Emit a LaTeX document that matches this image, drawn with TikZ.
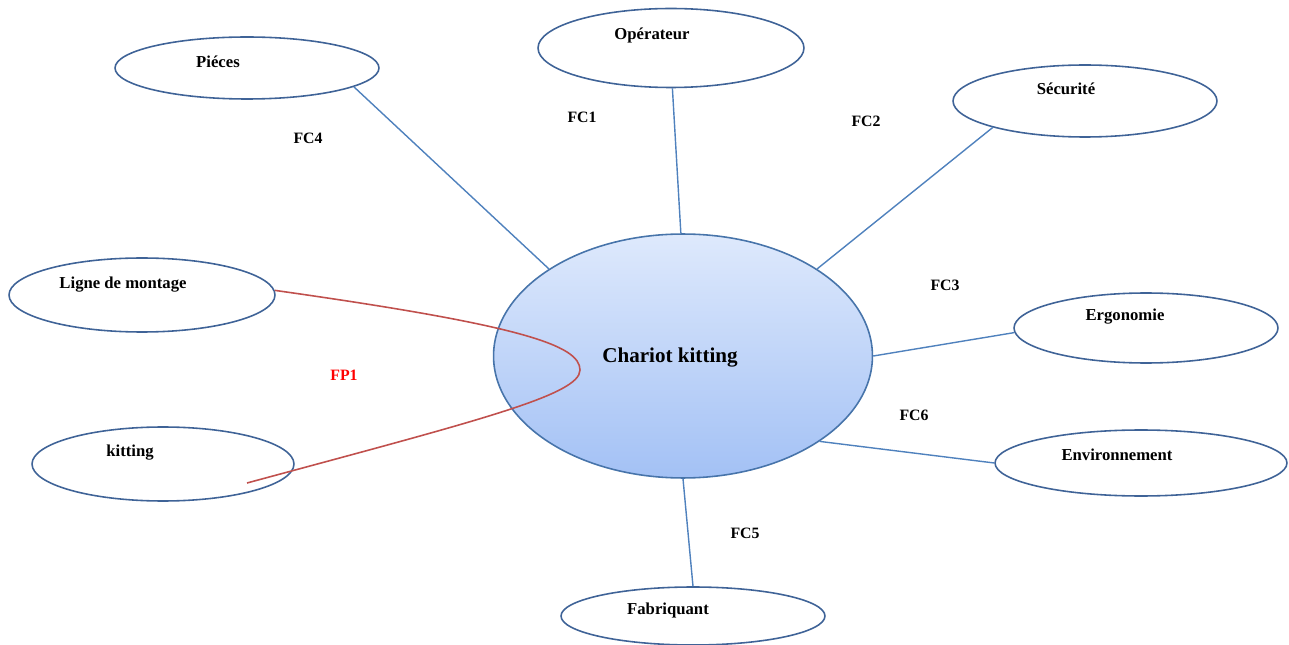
\documentclass[tikz,border=0pt]{standalone}
\usepackage{fontspec}
\setmainfont{Liberation Serif}
\usepackage{tikz}
\usetikzlibrary{shapes.geometric}

\definecolor{bord}{HTML}{3F6397}
\definecolor{trait}{HTML}{4F81BD}
\definecolor{courbe}{HTML}{C0504D}
\definecolor{haut}{HTML}{DEE9FC}
\definecolor{bas}{HTML}{A3C1F5}

\begin{document}
\begin{tikzpicture}[x=0.02cm, y=-0.02cm,
	bulle/.style={ellipse, draw=bord, line width=0.9pt, inner sep=0pt},
	lbl/.style={font=\bfseries\fontsize{9.5}{11}\selectfont},
	fc/.style={font=\bfseries\fontsize{9}{11}\selectfont},
	lien/.style={draw=trait, line width=0.8pt}]

	\useasboundingbox (0,0) rectangle (1289,645);

	\begin{scope}
		\node[bulle, minimum width=5.28cm, minimum height=1.24cm] (pieces) at (247,68) {};
		\node[bulle, minimum width=5.32cm, minimum height=1.58cm] (operateur) at (671,48) {};
		\node[bulle, minimum width=5.28cm, minimum height=1.44cm] (securite) at (1085,101) {};
		\node[bulle, minimum width=5.32cm, minimum height=1.48cm] (ligne) at (142,295) {};
		\node[bulle, minimum width=5.28cm, minimum height=1.40cm] (ergonomie) at (1146,328) {};
		\node[bulle, minimum width=5.24cm, minimum height=1.48cm] (kitting) at (163,464) {};
		\node[bulle, minimum width=5.84cm, minimum height=1.32cm] (environnement) at (1141,463) {};
		\node[bulle, minimum width=5.28cm, minimum height=1.16cm] (fabriquant) at (693,616) {};
		\node[ellipse, draw=trait!90!black, line width=0.9pt, inner sep=0pt,
			top color=haut, bottom color=bas,
			minimum width=7.58cm, minimum height=4.88cm] (chariot) at (683,356) {};
	\end{scope}

	\begin{scope}
		\node[lbl] (tpieces) at (218,62) {Piéces};
		\node[lbl] (toperateur) at (652,35) {Opérateur};
		\node[lbl] (tsecurite) at (1066,89) {Sécurité};
		\node[lbl] (tligne) at (123,285) {Ligne de montage};
		\node[lbl] (tkitting) at (130,453) {kitting};
		\node[lbl] (tergonomie) at (1125,317) {Ergonomie};
		\node[lbl] (tenvironnement) at (1117,455) {Environnement};
		\node[lbl] (tfabriquant) at (668,610) {Fabriquant};
		\node[font=\bfseries\fontsize{12}{14}\selectfont] (tchariot) at (670,358) {Chariot kitting};
	\end{scope}

	\begin{scope}
		\draw[lien] (pieces.-10) -- (chariot.147);
		\draw[lien] (operateur.-88) -- (chariot.91);
		\draw[lien] (securite.196) -- (chariot.33);
		\draw[lien] (ergonomie.182) -- (chariot.0);
		\draw[lien] (environnement.180) -- (chariot.-32);
		\draw[lien] (fabriquant.90) -- (chariot.-90);
	\end{scope}

	\begin{scope}
		\foreach \n/\x/\y in {4/308/138, 1/582/117, 2/866/121, 3/945/285, 6/914/415, 5/745/533}
		{
			\node[fc] (fc\n) at (\x,\y) {FC\n};
		}
		\node[fc, text=red] (fp1) at (344,375) {FP1};
	\end{scope}

	\coordinate (kend) at (247,483);
	\draw[courbe, line width=0.9pt] (ligne.2) .. controls (520,325) and (580,345) .. (580,370)
		.. controls (580,395) and (480,420) .. (kend);
\end{tikzpicture}
\end{document}
